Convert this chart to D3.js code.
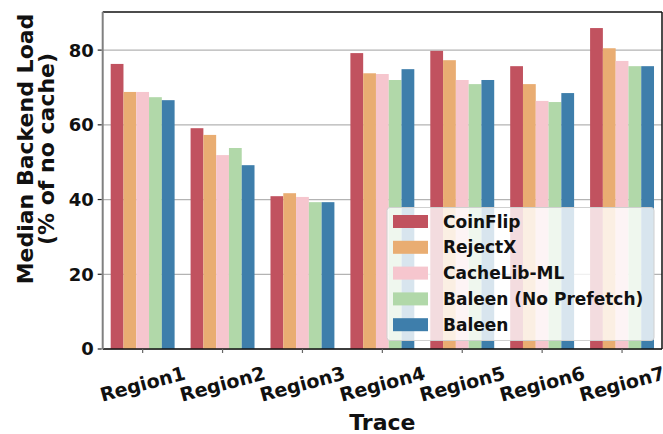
<!DOCTYPE html>
<html><head><meta charset="utf-8">
<script src="https://cdn.jsdelivr.net/npm/d3@7"></script>
<style>body{margin:0;background:#fff}svg{display:block;font-family:"DejaVu Sans",sans-serif;font-weight:bold}</style>
</head><body><svg id="c" width="663" height="434"></svg>
<script>
const categories = ["Region1","Region2","Region3","Region4","Region5","Region6","Region7"];
const seriesNames = ["CoinFlip","RejectX","CacheLib-ML","Baleen (No Prefetch)","Baleen"];
const coinFlip   = [76.3, 59.1, 40.9, 79.2, 79.8, 75.7, 85.9];
const rejectX    = [68.8, 57.3, 41.7, 73.8, 77.3, 70.9, 80.5];
const cacheLibML = [68.8, 51.9, 40.7, 73.6, 72.0, 66.4, 77.1];
const baleenNP   = [67.4, 53.8, 39.3, 72.0, 70.9, 66.1, 75.7];
const baleen     = [66.6, 49.2, 39.3, 74.9, 72.0, 68.5, 75.7];
const seriesValues = [coinFlip, rejectX, cacheLibML, baleenNP, baleen];
const colors = ["#c1525f","#e9ad72","#f6c6ce","#b1d8a9","#3e7eab"];
const yTicks = [0,20,40,60,80];

const svg = d3.select("#c");
const L=102.7, R=662, T=12, B=349;
const x = d3.scaleBand().domain(categories).range([L,R]).paddingInner(0).paddingOuter(0);
const inner = d3.scaleBand().domain(seriesNames).range([0, x.bandwidth()]).paddingInner(0).paddingOuter(0.625);
const y = d3.scaleLinear().domain([0,90.2]).range([B,T]);

// grid
svg.append("g").selectAll("line").data(yTicks).join("line")
  .attr("x1",L).attr("x2",R).attr("y1",d=>y(d)).attr("y2",d=>y(d))
  .attr("stroke","#b3b3b3").attr("stroke-width",1.3);

// bars
const g = svg.append("g");
seriesNames.forEach((s,si)=>{
  g.selectAll(null).data(categories).join("rect")
    .attr("x",c=>x(c)+inner(s)).attr("width",inner.bandwidth())
    .attr("y",(c,i)=>y(seriesValues[si][i])).attr("height",(c,i)=>B-y(seriesValues[si][i]))
    .attr("fill",colors[si]);
});

// spines
svg.append("line").attr("x1",L).attr("x2",R).attr("y1",T).attr("y2",T).attr("stroke","#111").attr("stroke-width",1.5);
svg.append("line").attr("x1",R).attr("x2",R).attr("y1",T).attr("y2",B).attr("stroke","#111").attr("stroke-width",1.5);
svg.append("line").attr("x1",L).attr("x2",R).attr("y1",B).attr("y2",B).attr("stroke","#111").attr("stroke-width",1.5);
svg.append("line").attr("x1",L).attr("x2",L).attr("y1",T).attr("y2",B).attr("stroke","#808080").attr("stroke-width",2);

// y axis ticks
const ya = svg.append("g");
ya.selectAll("line").data(yTicks).join("line")
  .attr("x1",L-5).attr("x2",L-1).attr("y1",d=>y(d)).attr("y2",d=>y(d)).attr("stroke","#222").attr("stroke-width",1.2);
ya.selectAll("text").data(yTicks).join("text")
  .attr("x",L-9).attr("y",d=>y(d)).attr("dy","0.36em").attr("text-anchor","end")
  .attr("font-size",18).attr("fill","#111").text(d=>d);

// x axis ticks
const xa = svg.append("g");
xa.selectAll("line").data(categories).join("line")
  .attr("x1",c=>x(c)+x.bandwidth()/2).attr("x2",c=>x(c)+x.bandwidth()/2)
  .attr("y1",B).attr("y2",B+4).attr("stroke","#666").attr("stroke-width",1.2);
xa.selectAll("text").data(categories).join("text")
  .attr("transform",c=>`translate(${x(c)+x.bandwidth()/2},${384}) rotate(-15)`)
  .attr("text-anchor","middle").attr("dy","0.35em")
  .attr("font-size",19).attr("fill","#111").text(c=>c);

// axis titles
svg.append("text").attr("x",(L+R)/2).attr("y",430).attr("text-anchor","middle")
  .attr("font-size",22).attr("fill","#111").text("Trace");
const yl = svg.append("text").attr("transform","translate(0,149) rotate(-90)")
  .attr("text-anchor","middle").attr("font-size",22).attr("fill","#111");
yl.append("tspan").attr("x",0).attr("y",33).text("Median Backend Load");
yl.append("tspan").attr("x",0).attr("y",54).text("(% of no cache)");

// legend
const lg = svg.append("g");
lg.append("rect").attr("x",387).attr("y",207.5).attr("width",267).attr("height",133).attr("rx",3)
  .attr("fill","#fff").attr("fill-opacity",0.8).attr("stroke","#d0d0d0").attr("stroke-width",1);
const rows = lg.selectAll("g").data(seriesNames).join("g")
  .attr("transform",(d,i)=>`translate(0,${221.5+i*25.8})`);
rows.append("rect").attr("x",393).attr("y",-6.5).attr("width",35).attr("height",13).attr("fill",(d,i)=>colors[i]);
rows.append("text").attr("x",443).attr("y",0).attr("dy","0.36em").attr("font-size",17).attr("fill","#111").text(d=>d);
</script></body></html>
